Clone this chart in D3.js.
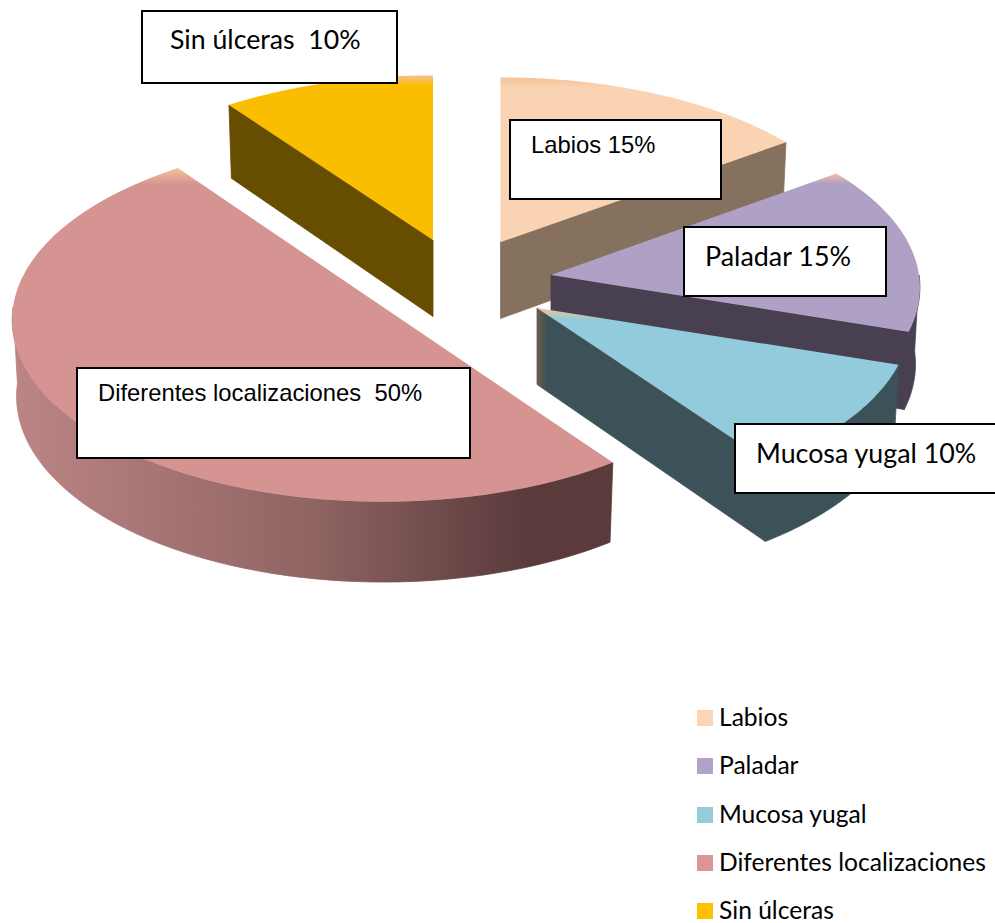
<!DOCTYPE html>
<html lang="es">
<head>
<meta charset="utf-8">
<title>Localización de las úlceras</title>
<script src="https://cdn.jsdelivr.net/npm/d3@7"></script>
<style>
  html, body { margin: 0; padding: 0; background: #fff; }
  svg { display: block; }
  text { white-space: pre; fill: #000; }
</style>
</head>
<body>
<div id="chart"></div>
<script>
// Chart values
const categories = ["Labios", "Paladar", "Mucosa yugal", "Diferentes localizaciones", "Sin úlceras"];
const percentages = [15, 15, 10, 50, 10];
const labelGaps = [" ", " ", " ", "  ", "  "];

// Colours: top face, side faces, legend swatch
const topColors = ["#fad3b2", "#afa0c6", "#92cbdc", "#d59392", "#fabd00"];
const sideColors = ["#86705e", "#484050", "#3d5258", "#5a3a3b", "#664d00"];
const legendColors = ["#fbd5b5", "#b2a2c7", "#92cddc", "#d99694", "#ffc000"];
const tipColor = "#f5c198";

// Exploded position and size of each wedge on the page
const apexX = [500.5, 551, 537, 383, 433];
const apexY = [242, 275, 308, 307, 240];
const radiiX = [368, 368, 372, 370, 368];
const radiiY = [177, 180, 180, 182, 177];
const drawOrder = [0, 4, 1, 2, 3];

// Callout layout: box [x, y, w, h], text [x, baseline], font
const boxes = [[510, 120, 211, 79], [684, 227, 202, 69], [735, 424, 270, 69], [77, 368, 393, 90], [142, 11, 255, 72]];
const labelPos = [[531, 153], [705, 266], [756, 463], [98, 401], [170, 49]];
const labelFonts = [
  ["Liberation Sans", 23.8], ["Lato", 26.9], ["Lato", 26.8], ["Liberation Sans", 23.8], ["Lato", 26.7]
];

const width = 995, height = 923;
const depth = 76.5, perspective = 0.07, lowerInset = 0.988;

const svg = d3.select("#chart").append("svg").attr("width", width).attr("height", height);
const defs = svg.append("defs");

const pie = d3.pie().sort(null).startAngle(0).endAngle(2 * Math.PI);
const wedges = pie(percentages);

// Perspective: parts nearer the viewer (v > 0) are drawn slightly larger,
// and the underside of a wedge sits slightly inside its top rim
const shrink = d3.scaleLinear().domain([-1, 1]).range([1 - perspective, 1 + perspective]);
const drop = d3.scaleLinear().domain([-1, 1]).range([depth * 0.95, depth * 1.05]);

function project(i, angle, r, lowered) {
  const u = r * Math.sin(angle), v = -r * Math.cos(angle);
  const s = shrink(v);
  return [
    apexX[i] + radiiX[i] * u * s * (lowered ? lowerInset : 1),
    apexY[i] + radiiY[i] * v * s + (lowered ? drop(v) : 0)
  ];
}

const line = d3.line();
const sweep = (a0, a1) => d3.range(0, 61).map(k => a0 + (a1 - a0) * k / 60);
const arcAngles = w => sweep(w.startAngle, w.endAngle);

function topPath(i) {
  const pts = arcAngles(wedges[i]).map(a => project(i, a, 1, false));
  return line([project(i, 0, 0, false), ...pts]) + "Z";
}

// Only the part of the rim facing the viewer gets a wall
function wallPath(i) {
  const a0 = Math.max(wedges[i].startAngle, Math.PI / 2);
  const a1 = Math.min(wedges[i].endAngle, 3 * Math.PI / 2);
  if (a1 <= a0) return null;
  const angles = sweep(a0, a1);
  const upper = angles.map(a => project(i, a, 1, false));
  const lower = angles.slice().reverse().map(a => project(i, a, 1, true));
  return line([...upper, ...lower]) + "Z";
}

// A cut face is drawn only when it turns toward the viewer
function radialPath(i, angle, facing) {
  if (facing * Math.sin(angle) <= 1e-6) return null;
  return line([
    project(i, 0, 0, false), project(i, angle, 1, false),
    project(i, angle, 1, true), project(i, 0, 0, true)
  ]) + "Z";
}

// Top faces fade out of a peach highlight at their highest point
function topGradient(i) {
  const ys = arcAngles(wedges[i]).map(a => project(i, a, 1, false)[1]);
  const y0 = Math.min(apexY[i], d3.min(ys));
  const g = defs.append("linearGradient").attr("id", "top" + i)
    .attr("gradientUnits", "userSpaceOnUse")
    .attr("x1", 0).attr("x2", 0).attr("y1", y0).attr("y2", y0 + (i === 3 ? 17 : i === 2 ? 12 : 10));
  g.append("stop").attr("offset", 0).attr("stop-color", tipColor);
  g.append("stop").attr("offset", 1).attr("stop-color", topColors[i]);
}
wedges.forEach((w, i) => topGradient(i));

// Horizontal shading on the large wedge's outer wall
const wallGrad = defs.append("linearGradient").attr("id", "wall3")
  .attr("gradientUnits", "userSpaceOnUse").attr("x1", 15).attr("x2", 611).attr("y1", 0).attr("y2", 0);
wallGrad.append("stop").attr("offset", 0).attr("stop-color", "#bb8584");
wallGrad.append("stop").attr("offset", 0.5).attr("stop-color", "#8f6463");
wallGrad.append("stop").attr("offset", 0.86).attr("stop-color", sideColors[3]);
wallGrad.append("stop").attr("offset", 1).attr("stop-color", sideColors[3]);

// Brownish rim along the narrow end of the teal wedge
const rimGrad = defs.append("linearGradient").attr("id", "side2")
  .attr("gradientUnits", "userSpaceOnUse").attr("x1", 536).attr("x2", 547).attr("y1", 0).attr("y2", 0);
rimGrad.append("stop").attr("offset", 0).attr("stop-color", "#705c4b");
rimGrad.append("stop").attr("offset", 1).attr("stop-color", sideColors[2]);

const sideFill = i => i === 3 ? "url(#wall3)" : i === 2 ? "url(#side2)" : sideColors[i];

// Side faces carry a hairline stroke of their own colour so no seam shows between them
const slices = svg.selectAll("g.wedge").data(drawOrder).join("g").attr("class", "wedge");
[
  i => radialPath(i, wedges[i].startAngle, -1),
  i => radialPath(i, wedges[i].endAngle, 1),
  wallPath
].forEach(shape => {
  slices.filter(i => shape(i) !== null).append("path")
    .attr("d", shape).attr("fill", sideFill)
    .attr("stroke", sideFill).attr("stroke-width", 0.8);
});
slices.append("path").attr("d", topPath).attr("fill", i => `url(#top${i})`);

// Callouts
const callouts = svg.selectAll("g.callout").data(categories).join("g").attr("class", "callout");
callouts.append("rect")
  .attr("x", (d, i) => boxes[i][0]).attr("y", (d, i) => boxes[i][1])
  .attr("width", (d, i) => boxes[i][2]).attr("height", (d, i) => boxes[i][3])
  .attr("fill", "#fff").attr("stroke", "#000").attr("stroke-width", 2);
callouts.append("text")
  .attr("x", (d, i) => labelPos[i][0]).attr("y", (d, i) => labelPos[i][1])
  .attr("font-family", (d, i) => labelFonts[i][0]).attr("font-size", (d, i) => labelFonts[i][1])
  .text((d, i) => d + labelGaps[i] + percentages[i] + "%");

// Legend
const legendY = d3.scalePoint().domain(categories).range([726, 919]);
const legend = svg.selectAll("g.key").data(categories).join("g").attr("class", "key");
legend.append("rect")
  .attr("x", 697).attr("y", d => Math.round(legendY(d)) - 16).attr("width", 16).attr("height", 16)
  .attr("fill", (d, i) => legendColors[i]);
legend.append("text")
  .attr("x", 719).attr("y", d => legendY(d))
  .attr("font-family", "Lato").attr("font-size", 24.6)
  .text(d => d);
</script>
</body>
</html>
